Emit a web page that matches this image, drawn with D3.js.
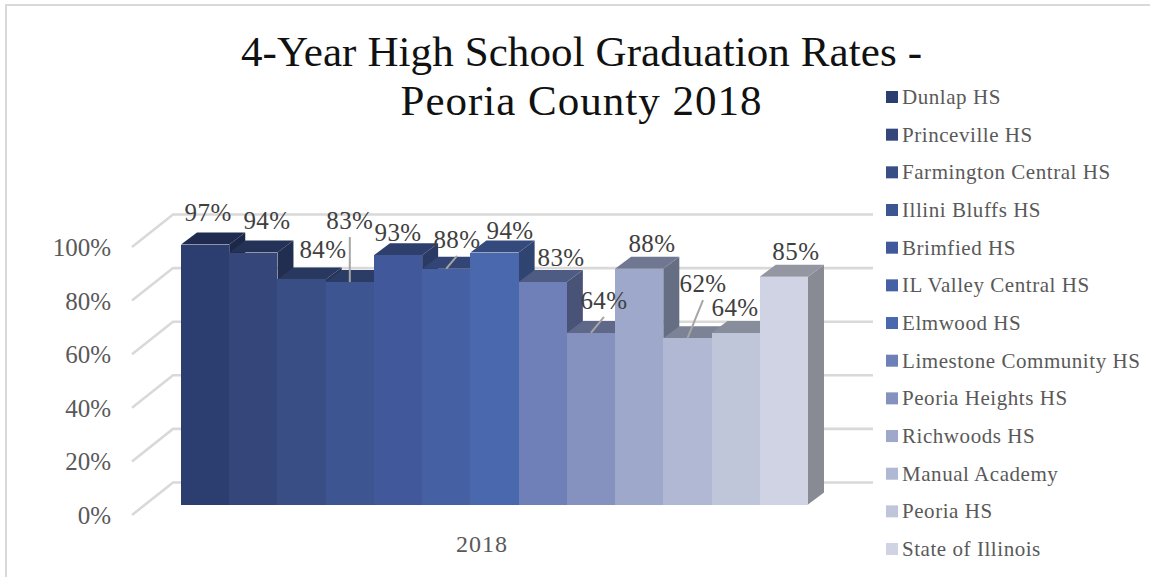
<!DOCTYPE html>
<html>
<head>
<meta charset="utf-8">
<script src="https://cdn.jsdelivr.net/npm/d3@7"></script>
<style>
  html, body { margin: 0; padding: 0; background: #fff; }
  text { font-family: "Liberation Serif", serif; }
</style>
</head>
<body>
<div id="my_dataviz"></div>
<script>
// the data
var schools = ["Dunlap HS", "Princeville HS", "Farmington Central HS", "Illini Bluffs HS", "Brimfied HS",
  "IL Valley Central HS", "Elmwood HS", "Limestone Community HS", "Peoria Heights HS", "Richwoods HS",
  "Manual Academy", "Peoria HS", "State of Illinois"];
var rates = [97, 94, 84, 83, 93, 88, 94, 83, 64, 88, 62, 64, 85];
var yTicks = [0, 20, 40, 60, 80, 100];
var year = "2018";
var titleLines = ["4-Year High School Graduation Rates -", "Peoria County 2018"];

// colours of the front faces
var colors = ["#2c3e6f", "#34467a", "#384e85", "#3d5590", "#41599a", "#4661a3", "#4a68ae",
  "#6e80b7", "#8592c0", "#9da8cb", "#b0b8d3", "#bfc6da", "#d0d3e3"];

// where each data label sits, relative to the top middle of its bar
var labelShift = [[3, -31.5], [13.6, -31.6], [21.4, -29.4], [0, -61], [0, -23], [10.7, -28.7], [15.5, -21.6],
  [18.3, -24], [13, -32], [12.8, -24.7], [15.6, -54.3], [-0.6, -25], [12, -24.7]];
var leaderBars = [3, 5, 8, 10];

var width = 1150, height = 577;

// 3d look of the chart
var depth = {x: 16, y: -12};
var wall = {x: 41, y: -32.5};

var svg = d3.select("#my_dataviz")
  .append("svg")
    .attr("width", width)
    .attr("height", height)
    .style("display", "block");

// outer frame, only top and left show up
svg.append("path")
  .attr("d", "M6,577V5H1150")
  .attr("fill", "none")
  .attr("stroke", "#d9d9d9")
  .attr("stroke-width", 2);

var x = d3.scaleBand()
  .domain(d3.range(schools.length))
  .range([181, 808]);

var y = d3.scaleLinear()
  .domain([0, 100])
  .range([504.5, 236.5]);

// gridlines: floor diagonal then along the back wall
var gridStart = 132;
svg.selectAll("path.grid")
  .data(yTicks)
  .enter()
  .append("path")
    .attr("class", "grid")
    .attr("fill", "none")
    .attr("stroke", "#d9d9d9")
    .attr("stroke-width", 2.6)
    .attr("d", function(d) {
      var y0 = y(d) + 10.5;
      return "M" + gridStart + "," + y0 +
        "L" + (gridStart + wall.x) + "," + (y0 + wall.y) +
        "L873," + (y0 + wall.y);
    });

// y axis, labels only
var yAxis = svg.append("g")
  .attr("transform", "translate(116,11)")
  .call(d3.axisLeft(y).tickValues(yTicks).tickSize(0).tickPadding(5).tickFormat(function(d) { return d + "%"; }));
yAxis.select(".domain").remove();
yAxis.selectAll("text")
  .attr("fill", "#595959")
  .style("font-family", "'Liberation Serif', serif")
  .style("font-size", "25px");

// bars, left to right so each one paints over the side of the last one
var bars = svg.selectAll("g.bar")
  .data(rates)
  .enter()
  .append("g")
    .attr("class", "bar");

bars.append("path")
  .attr("fill", function(d, i) { return d3.color(colors[i]).darker(1.2); })
  .attr("d", function(d, i) {
    var x1 = x(i) + x.bandwidth();
    return "M" + x1 + "," + y(d) + "l" + depth.x + "," + depth.y +
      "V" + (y(0) + depth.y) + "L" + x1 + "," + y(0) + "Z";
  });

bars.append("path")
  .attr("fill", function(d, i) { return d3.color(colors[i]).darker(0.95); })
  .attr("d", function(d, i) {
    return "M" + x(i) + "," + y(d) + "l" + depth.x + "," + depth.y +
      "h" + x.bandwidth() + "l" + (-depth.x) + "," + (-depth.y) + "Z";
  });

bars.append("rect")
  .attr("x", function(d, i) { return x(i); })
  .attr("y", function(d) { return y(d); })
  .attr("width", x.bandwidth())
  .attr("height", function(d) { return y(0) - y(d); })
  .attr("shape-rendering", "crispEdges")
  .attr("fill", function(d, i) { return colors[i]; });

// leader lines
svg.selectAll("line.leader")
  .data(leaderBars)
  .enter()
  .append("line")
    .attr("class", "leader")
    .attr("stroke", "#a6a6a6")
    .attr("stroke-width", 2)
    .attr("x1", function(i) { return x(i) + x.bandwidth() / 2; })
    .attr("y1", function(i) { return y(rates[i]); })
    .attr("x2", function(i) { return x(i) + x.bandwidth() / 2 + labelShift[i][0]; })
    .attr("y2", function(i) { return y(rates[i]) + labelShift[i][1] + 16; });

// data labels
svg.selectAll("text.value")
  .data(rates)
  .enter()
  .append("text")
    .attr("class", "value")
    .attr("x", function(d, i) { return x(i) + x.bandwidth() / 2 + labelShift[i][0]; })
    .attr("y", function(d, i) { return y(d) + labelShift[i][1]; })
    .attr("dy", "0.33em")
    .attr("text-anchor", "middle")
    .attr("fill", "#404040")
    .style("font-size", "25px")
    .style("letter-spacing", "0.4px")
    .text(function(d) { return d + "%"; });

// category label under the bars
svg.append("text")
  .attr("x", 482)
  .attr("y", 552)
  .attr("text-anchor", "middle")
  .attr("fill", "#595959")
  .style("font-size", "24px")
  .style("letter-spacing", "1px")
  .text(year);

// title
svg.selectAll("text.title")
  .data(titleLines)
  .enter()
  .append("text")
    .attr("class", "title")
    .attr("x", 581.5)
    .attr("y", function(d, i) { return 66 + i * 49; })
    .attr("text-anchor", "middle")
    .attr("fill", "#111")
    .style("font-size", "43px")
    .style("letter-spacing", function(d, i) { return i == 1 ? "1px" : "0.1px"; })
    .text(function(d) { return d; });

// legend
var legend = svg.selectAll("g.legend")
  .data(schools)
  .enter()
  .append("g")
    .attr("class", "legend")
    .attr("transform", function(d, i) { return "translate(886," + (97 + i * 37.67) + ")"; });

legend.append("rect")
  .attr("y", -6)
  .attr("width", 12)
  .attr("height", 12)
  .attr("fill", function(d, i) { return colors[i]; });

legend.append("text")
  .attr("x", 16)
  .attr("dy", "0.33em")
  .attr("fill", "#595959")
  .style("font-size", "21px")
  .style("letter-spacing", "0.55px")
  .text(function(d) { return d; });
</script>
</body>
</html>
